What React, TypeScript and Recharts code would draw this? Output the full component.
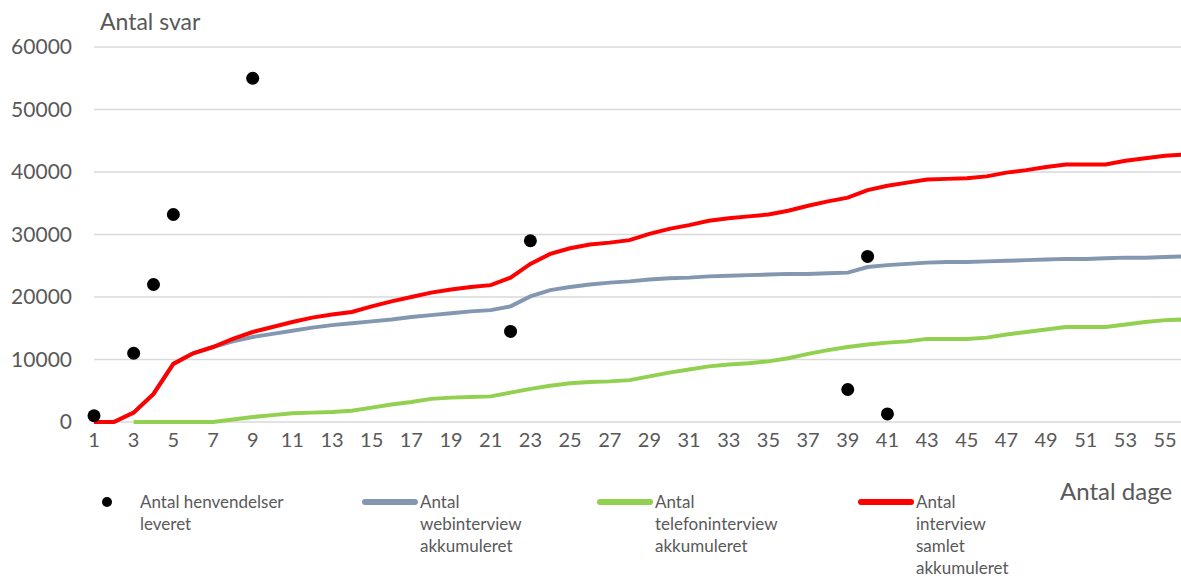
import { ComposedChart, Line, Scatter, XAxis, YAxis, CartesianGrid } from 'recharts';

// days since launch
const days = [
  1, 2, 3, 4, 5, 6, 7, 8, 9, 10, 11, 12, 13, 14, 15, 16, 17, 18, 19, 20,
  21, 22, 23, 24, 25, 26, 27, 28, 29, 30, 31, 32, 33, 34, 35, 36, 37, 38, 39, 40,
  41, 42, 43, 44, 45, 46, 47, 48, 49, 50, 51, 52, 53, 54, 55, 56,
];

const webCumulative = [
  0, 0, 1500, 4500, 9300, 11000, 12000, 12900, 13600, 14100, 14600, 15100, 15500, 15800, 16100, 16400, 16800, 17100, 17400, 17700,
  17900, 18500, 20100, 21100, 21600, 22000, 22300, 22500, 22800, 23000, 23100, 23300, 23400, 23500, 23600, 23700, 23700, 23800, 23900, 24800,
  25100, 25300, 25500, 25600, 25600, 25700, 25800, 25900, 26000, 26100, 26100, 26200, 26300, 26300, 26400, 26500,
];

const phoneCumulative = [
  null, null, 0, 0, 0, 0, 0, 400, 800, 1100, 1400, 1500, 1600, 1800, 2300, 2800, 3200, 3700, 3900, 4000,
  4100, 4700, 5300, 5800, 6200, 6400, 6500, 6700, 7300, 7900, 8400, 8900, 9200, 9400, 9700, 10200, 10900, 11500, 12000, 12400,
  12700, 12900, 13300, 13300, 13300, 13500, 14000, 14400, 14800, 15200, 15200, 15200, 15600, 16000, 16300, 16400,
];

const totalCumulative = [
  0, 0, 1500, 4500, 9300, 11000, 12000, 13300, 14400, 15200, 16000, 16700, 17200, 17600, 18500, 19300, 20000, 20700, 21200, 21600,
  21900, 23100, 25300, 26900, 27800, 28400, 28700, 29100, 30100, 30900, 31500, 32200, 32600, 32900, 33200, 33800, 34600, 35300, 35900, 37100,
  37800, 38300, 38800, 38900, 39000, 39300, 39900, 40300, 40800, 41200, 41200, 41200, 41800, 42200, 42600, 42800,
];

const deliveryDays = [1, 3, 4, 5, 9, 22, 23, 39, 40, 41];
const deliveryCounts = [1000, 11000, 22000, 33200, 55000, 14500, 29000, 5200, 26500, 1300];

const xTicks = [1, 3, 5, 7, 9, 11, 13, 15, 17, 19, 21, 23, 25, 27, 29, 31, 33, 35, 37, 39, 41, 43, 45, 47, 49, 51, 53, 55];
const yTicks = [0, 10000, 20000, 30000, 40000, 50000, 60000];

const data = days.map((d, i) => ({
  day: d,
  web: webCumulative[i],
  phone: phoneCumulative[i],
  total: totalCumulative[i],
}));
const deliveries = deliveryDays.map((d, i) => ({ day: d, value: deliveryCounts[i] }));

const FONT = 'Lato, "Open Sans", sans-serif';
const TEXT = '#595959';

const legendItems = [
  { left: 362, color: '#8497B0', lines: ['Antal', 'webinterview', 'akkumuleret'] },
  { left: 597, color: '#92D050', lines: ['Antal', 'telefoninterview', 'akkumuleret'] },
  { left: 858, color: '#FF0000', lines: ['Antal', 'interview', 'samlet', 'akkumuleret'] },
];

function Dot(props: any) {
  return <circle cx={props.cx} cy={props.cy} r={6.5} fill="#000" />;
}

export default function App() {
  return (
    <div style={{ position: 'absolute', left: 0, top: 0, width: 1181, height: 576, background: '#fff', fontFamily: FONT }}>
      <ComposedChart width={1181} height={576} data={data} margin={{ top: 47, right: 0, left: 0, bottom: 124 }}>
        <CartesianGrid vertical={false} stroke="#d9d9d9" strokeWidth={1.5} />
        <XAxis
          dataKey="day"
          type="number"
          domain={[1, 55.8]}
          allowDataOverflow
          ticks={xTicks}
          interval={0}
          height={30}
          axisLine={false}
          tickLine={false}
          tickMargin={5}
          tick={{ fontSize: 20, fill: TEXT, fontFamily: FONT }}
        />
        {/* same scale, no clipping, so the day-1 dot stays whole */}
        <XAxis xAxisId="dots" dataKey="day" type="number" domain={[1, 55.8]} hide />
        <YAxis
          width={94}
          domain={[0, 60000]}
          ticks={yTicks}
          axisLine={false}
          tickLine={false}
          tickMargin={16}
          tick={{ fontSize: 21, fill: TEXT, fontFamily: FONT }}
        />
        <Line type="linear" dataKey="web" stroke="#8497B0" strokeWidth={4} dot={false} isAnimationActive={false} />
        <Line type="linear" dataKey="phone" stroke="#92D050" strokeWidth={4} dot={false} isAnimationActive={false} />
        <Line type="linear" dataKey="total" stroke="#FF0000" strokeWidth={4} dot={false} isAnimationActive={false} />
        <Scatter xAxisId="dots" data={deliveries} dataKey="value" shape={Dot} isAnimationActive={false} />
      </ComposedChart>

      <div style={{ position: 'absolute', left: 100, top: 7, fontSize: 23, color: TEXT }}>Antal svar</div>
      <div style={{ position: 'absolute', left: 1060, top: 476, fontSize: 24, color: TEXT }}>Antal dage</div>

      <div style={{ position: 'absolute', left: 102, top: 497, width: 10, height: 10, borderRadius: 5, background: '#000' }} />
      <div style={{ position: 'absolute', left: 140, top: 491, fontSize: 17, lineHeight: '22px', color: TEXT }}>
        Antal henvendelser
        <br />
        leveret
      </div>
      {legendItems.map((item) => (
        <div key={item.left}>
          <div
            style={{
              position: 'absolute',
              left: item.left,
              top: 499,
              width: 56,
              height: 6,
              borderRadius: 3,
              background: item.color,
            }}
          />
          <div style={{ position: 'absolute', left: item.left + 58, top: 491, fontSize: 17, lineHeight: '22px', color: TEXT }}>
            {item.lines.map((l) => (
              <div key={l}>{l}</div>
            ))}
          </div>
        </div>
      ))}
    </div>
  );
}
